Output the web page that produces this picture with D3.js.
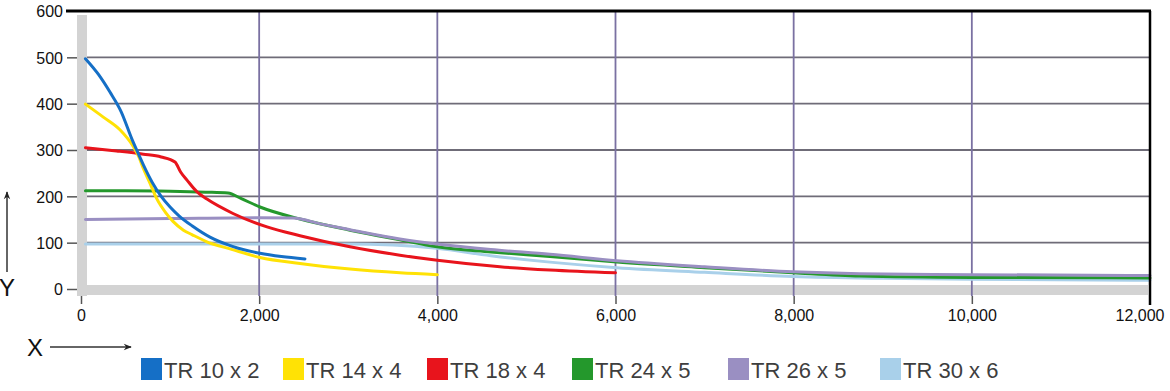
<!DOCTYPE html>
<html>
<head>
<meta charset="utf-8">
<script src="https://cdn.jsdelivr.net/npm/d3@7/dist/d3.min.js"></script>
<style>
  html, body { margin: 0; padding: 0; background: #fff; }
  svg { display: block; font-family: "Liberation Sans", Arial, Helvetica, sans-serif; }
</style>
</head>
<body>
<svg id="chart" width="1170" height="391"></svg>
<script>
// ---- Data ----
const seriesNames = ["TR 10 x 2", "TR 14 x 4", "TR 18 x 4", "TR 24 x 5", "TR 26 x 5", "TR 30 x 6"];
const seriesColors = ["#156fc6", "#ffe205", "#e8141c", "#24982c", "#9a8fc2", "#a9d0ea"];

const tr10x2_x = [50, 200, 325, 450, 575, 625, 700, 800, 900, 1000, 1100, 1250, 1448, 1700, 2009, 2250, 2514];
const tr10x2_y = [497, 462, 425, 383, 322, 300, 268, 230, 200, 177, 158, 136, 112, 92, 77, 70, 65];

const tr14x4_x = [50, 250, 440, 585, 650, 700, 775, 850, 950, 1033, 1150, 1250, 1400, 1700, 2009, 2458, 3019, 3580, 4000];
const tr14x4_y = [399, 371, 343, 308, 285, 260, 228, 195, 165, 146, 127, 117, 103, 85, 68, 55, 43, 35, 31];

const tr18x4_x = [50, 400, 700, 900, 1055, 1120, 1190, 1300, 1414, 1706, 2088, 2458, 3019, 3580, 4000, 4703, 5264, 6000];
const tr18x4_y = [305, 298, 291, 285, 274, 252, 235, 210, 194, 163, 134, 115, 91, 73, 62, 48, 41, 35];

const tr24x5_x = [50, 500, 1000, 1400, 1650, 1800, 2009, 2458, 3019, 3580, 3996, 4600, 5264, 6016, 7000, 7991, 8743, 10000, 12000];
const tr24x5_y = [212, 212, 211, 209, 207, 195, 177, 151, 127, 106, 91, 80, 70, 58, 46, 35, 28, 25, 24];

const tr26x5_x = [50, 1000, 2000, 2380, 2700, 3019, 3580, 3996, 4600, 5264, 6016, 7000, 7991, 8743, 10000, 12000];
const tr26x5_y = [150, 152, 154, 153, 140, 128, 108, 97, 85, 75, 61, 48, 37, 33, 31, 29];

const tr30x6_x = [50, 1500, 3000, 3500, 3996, 4600, 5264, 6016, 7000, 7991, 9000, 10000, 12000];
const tr30x6_y = [97, 97, 97, 95, 88, 72, 58, 46, 36, 27, 23, 21, 19];

const xTicks = [0, 2000, 4000, 6000, 8000, 10000, 12000];
const yTicks = [0, 100, 200, 300, 400, 500, 600];

// ---- Layout ----
const svg = d3.select("#chart");
const x = d3.scaleLinear().domain([0, 12000]).range([81, 1150]);
const y = d3.scaleLinear().domain([0, 600]).range([289, 11]);

// grey bands (axis frame)
svg.append("rect").attr("x", 77).attr("y", 15).attr("width", 10).attr("height", 281).attr("fill", "#d3d3d3");
svg.append("rect").attr("x", 77).attr("y", 285).attr("width", 1071).attr("height", 10).attr("fill", "#d3d3d3");

// horizontal grid
svg.append("g").selectAll("line").data(yTicks.filter(d => d > 0 && d < 600)).join("line")
  .attr("x1", 87).attr("x2", 1150)
  .attr("y1", d => y(d)).attr("y2", d => y(d))
  .attr("stroke", "#6f6c78").attr("stroke-width", 1.8);

// vertical grid
svg.append("g").selectAll("line").data(xTicks.filter(d => d > 0 && d < 12000)).join("line")
  .attr("x1", d => x(d)).attr("x2", d => x(d))
  .attr("y1", 11).attr("y2", 296)
  .attr("stroke", "#7a71a2").attr("stroke-width", 1.8);

// series lines
const allSeries = [
  {xs: tr30x6_x, ys: tr30x6_y, i: 5},
  {xs: tr24x5_x, ys: tr24x5_y, i: 3},
  {xs: tr26x5_x, ys: tr26x5_y, i: 4},
  {xs: tr18x4_x, ys: tr18x4_y, i: 2},
  {xs: tr14x4_x, ys: tr14x4_y, i: 1},
  {xs: tr10x2_x, ys: tr10x2_y, i: 0}
];
const line = d3.line().x(d => x(d[0])).y(d => y(d[1])).curve(d3.curveMonotoneX);
allSeries.forEach(s => {
  const pts = s.xs.map((v, k) => [v, s.ys[k]]);
  svg.append("path").datum(pts)
    .attr("d", line)
    .attr("fill", "none")
    .attr("stroke", seriesColors[s.i])
    .attr("stroke-width", 3)
    .attr("stroke-linejoin", "round")
    .attr("stroke-linecap", "round");
});

// top black line and right border
svg.append("line").attr("x1", 66).attr("x2", 1151).attr("y1", y(600)).attr("y2", y(600))
  .attr("stroke", "#000").attr("stroke-width", 3);
svg.append("line").attr("x1", 1150).attr("x2", 1150).attr("y1", y(600)).attr("y2", 305)
  .attr("stroke", "#000").attr("stroke-width", 2.5);

// y axis
const yAxis = svg.append("g").attr("transform", "translate(77,0)")
  .call(d3.axisLeft(y).tickValues(yTicks).tickSize(10).tickPadding(4).tickFormat(d3.format(",")));
yAxis.select(".domain").remove();
yAxis.selectAll(".tick line").attr("stroke", "#555").attr("stroke-width", 1.5);
yAxis.selectAll(".tick").filter(d => d === 600).select("line").remove();
yAxis.selectAll("text").attr("font-size", 16).attr("fill", "#111")
  .attr("font-family", "'Liberation Sans', Arial, sans-serif").attr("dy", "0.36em");

// x axis
const xAxis = svg.append("g").attr("transform", "translate(0,296)")
  .call(d3.axisBottom(x).tickValues(xTicks).tickSize(8).tickPadding(6).tickFormat(d3.format(",")));
xAxis.select(".domain").remove();
xAxis.selectAll(".tick line").attr("stroke", "#555").attr("stroke-width", 1.5);
xAxis.selectAll(".tick").filter(d => d === 12000).select("line").remove();
xAxis.selectAll("text").attr("font-size", 16).attr("fill", "#111")
  .attr("font-family", "'Liberation Sans', Arial, sans-serif");
xAxis.selectAll(".tick").filter(d => d === 12000).select("text")
  .attr("text-anchor", "end").attr("x", 14);

// axis name arrows
const defs = svg.append("defs");
defs.append("marker").attr("id", "arr").attr("viewBox", "0 0 10 10")
  .attr("refX", 9).attr("refY", 5).attr("markerWidth", 12).attr("markerHeight", 8)
  .attr("markerUnits", "userSpaceOnUse")
  .attr("orient", "auto")
  .append("path").attr("d", "M0,1 L10,5 L0,9 L3,5 Z").attr("fill", "#222");

svg.append("line").attr("x1", 7).attr("x2", 7).attr("y1", 272).attr("y2", 192)
  .attr("stroke", "#333").attr("stroke-width", 1.5).attr("marker-end", "url(#arr)");
svg.append("text").attr("x", 7).attr("y", 296).attr("text-anchor", "middle")
  .attr("font-size", 24).attr("fill", "#111").text("Y");

svg.append("line").attr("x1", 50).attr("x2", 131).attr("y1", 347).attr("y2", 347)
  .attr("stroke", "#333").attr("stroke-width", 1.5).attr("marker-end", "url(#arr)");
svg.append("text").attr("x", 35).attr("y", 356).attr("text-anchor", "middle")
  .attr("font-size", 24).attr("fill", "#111").text("X");

// legend
const legendX = [141, 283, 427, 572, 728, 880];
const lg = svg.append("g");
seriesNames.forEach((name, i) => {
  lg.append("rect").attr("x", legendX[i]).attr("y", 358).attr("width", 21).attr("height", 22)
    .attr("fill", seriesColors[i]);
  lg.append("text").attr("x", legendX[i] + 23).attr("y", 378)
    .attr("font-size", 22).attr("fill", "#3e3e3e").text(name);
});
</script>
</body>
</html>
